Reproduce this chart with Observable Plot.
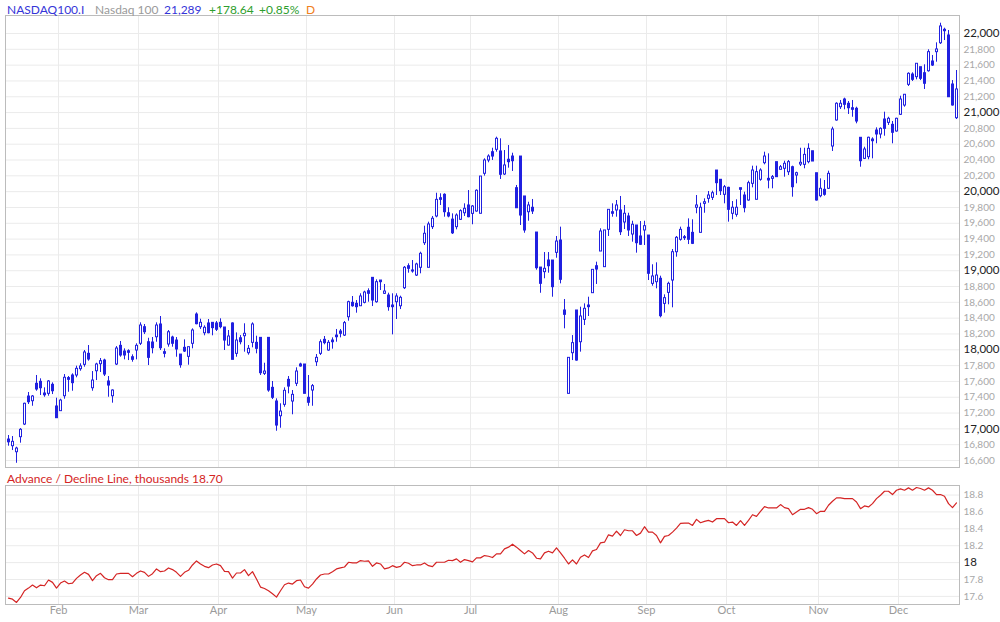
<!DOCTYPE html>
<html>
<head>
<meta charset="utf-8">
<script src="https://cdn.jsdelivr.net/npm/d3@7"></script>
<script src="https://cdn.jsdelivr.net/npm/@observablehq/plot@0.6"></script>
<style>
  html, body { margin: 0; padding: 0; background: #fff; }
  #root { position: relative; width: 1000px; height: 622px; font-family: Lato, "Noto Sans", sans-serif; overflow: hidden; }
  .hd { position: absolute; top: 2px; font-size: 12px; line-height: 16px; white-space: nowrap; }
  #main, #lower { position: absolute; left: 0; }
  #main { top: 0; }
  #lower { top: 470px; }
</style>
</head>
<body>
<div id="root">
  <div id="main"></div>
  <div id="lower"></div>
</div>
<script>
// ---------- header texts ----------
const headerItems = [
  {text: "NASDAQ100.I", x: 7, color: "#3535d8"},
  {text: "Nasdaq 100", x: 95, color: "#9a9a9a"},
  {text: "21,289", x: 164, color: "#3535d8"},
  {text: "+178.64", x: 209, color: "#2e9e2e"},
  {text: "+0.85%", x: 259, color: "#2e9e2e"},
  {text: "D", x: 306, color: "#f08020"}
];
const adTitle = "Advance / Decline Line, thousands 18.70";

// ---------- categories: trading-day index (Jan 12 2024 .. Dec 20 2024) ----------
const monthLabels = ["Feb", "Mar", "Apr", "May", "Jun", "Jul", "Aug", "Sep", "Oct", "Nov", "Dec"];
const monthFirstDay = [13, 33, 53, 75, 97, 116, 138, 160, 180, 203, 223];

// ---------- price series (OHLC) ----------
const open = [16865,16781,16705,16895,17055,17409,17350,17570,17595,17447,17443,17557,17283,17224,17413,17642,17675,17675,17755,17810,
17949,17514,17729,17818,17864,17599,17413,17814,18050,17978,17982,17906,17991,18076,18286,18096,18092,18159,18320,17970,
18067,18155,18117,17940,18025,17911,18076,18446,18286,18210,18333,18341,18333,18341,18282,18054,18333,17949,18146,18172,
17957,18088,18088,18151,17696,18151,17519,17346,17160,17304,17620,17346,17570,17814,17814,17393,17485,17843,17949,18126,
17991,18117,18180,18231,18180,18412,18594,18581,18551,18594,18741,18910,18602,18876,18708,18686,18560,18602,18551,18779,
19057,19003,18939,19037,19348,19037,19551,19686,19917,19960,19727,19646,19551,19644,19727,19825,19719,19749,19720,20226,
20394,20499,20529,20508,20217,20403,20444,20044,20444,19939,19740,19796,19483,19040,18982,19129,19129,19226,19382,18497,
17443,17957,18497,18096,18379,18560,18716,19057,19243,19045,19517,19740,19762,19762,19610,19686,19458,19572,19433,19509,
19445,18834,18855,18898,18581,18720,18876,19234,19391,19424,19543,19479,19796,19479,19846,19909,19922,20267,20150,19960,
20048,19720,19707,20044,19951,19888,20099,19897,20150,20360,20162,20162,20373,20276,20289,20246,20309,20204,20343,20339,
20373,20511,20233,19942,20023,20036,20571,20900,21068,21165,21111,21055,21048,20681,20415,20436,20659,20773,20723,20912,
20870,20845,20761,20972,21089,21351,21481,21448,21574,21498,21523,21646,21764,21877,22029,21975,21355,20929];
const high = [16916,16903,16768,17004,17325,17460,17422,17675,17633,17519,17611,17582,17388,17375,17687,17662,17696,17793,17823,17991,
18054,17725,17830,17890,17881,17662,17494,18041,18105,18012,18000,17936,18076,18341,18320,18146,18155,18341,18421,18012,
18244,18172,18155,17940,18126,18033,18265,18467,18387,18303,18383,18341,18358,18392,18282,18244,18341,18214,18180,18329,
18054,18341,18172,18151,17830,18151,17599,17380,17317,17519,17662,17485,17772,17830,17814,17675,17561,17940,18126,18168,
18117,18151,18257,18257,18358,18615,18674,18623,18708,18741,18771,18910,18885,18876,18826,18716,18708,18708,18678,19053,
19087,19129,19095,19234,19563,19614,19686,19980,19973,19973,19796,19719,19719,19770,19846,20014,19825,20023,20191,20415,
20466,20549,20689,20668,20520,20583,20486,20078,20444,19939,19866,19901,19483,19040,19230,19230,19129,19433,19551,18636,
17898,18180,18497,18539,18581,18665,19011,19108,19530,19509,19770,19846,19888,19939,19825,19727,19626,19572,19622,19626,
19445,19075,19100,18931,18695,18855,19268,19433,19551,19445,19656,19644,19951,19854,19909,20002,20006,20267,20150,20078,
20056,19875,19897,20044,19993,20132,20322,20322,20289,20499,20478,20204,20373,20331,20385,20394,20322,20246,20549,20549,
20605,20511,20233,20162,20141,20259,20815,21124,21153,21182,21140,21153,21068,20681,20562,20689,20681,20807,20807,21005,
20941,20887,20929,21207,21229,21503,21503,21617,21574,21604,21794,21722,21882,22130,22067,22038,21405,21532];
const low = [16781,16726,16565,16819,17042,17308,17286,17476,17422,17400,17413,17434,17135,17220,17375,17463,17476,17646,17729,17780,
17856,17476,17611,17713,17662,17400,17325,17801,17906,17873,17864,17843,17873,18054,18193,17801,17949,18096,17991,17898,
18033,18033,17906,17767,17966,17805,18012,18316,18257,18177,18202,18177,18231,18265,17991,18046,17873,17906,18063,17970,
17932,18025,17949,17675,17675,17463,17371,16970,17008,17274,17443,17178,17535,17780,17443,17286,17286,17789,17928,18063,
17982,18008,18096,18151,18168,18362,18539,18463,18547,18581,18602,18547,18589,18750,18700,18488,18189,18383,18509,18762,
18969,18969,18927,18961,19319,19037,19521,19669,19825,19677,19669,19458,19517,19635,19686,19669,19581,19740,19720,20196,
20365,20394,20499,20154,20204,20297,20255,19790,19572,19474,19626,19711,19007,18715,18898,18969,18665,19158,18834,18265,
17443,17864,17856,17970,18307,18421,18716,18826,19243,19045,19433,19677,19677,19445,19521,19433,19361,19222,19319,19319,
18876,18804,18771,18404,18463,18569,18531,19171,19374,19382,19331,19331,19720,19479,19727,19854,19888,19951,19951,19846,
19614,19644,19677,19825,19732,19879,20048,19897,20132,20339,20036,20036,20183,20276,20183,20204,19930,20099,20318,20289,
20352,20381,19880,19922,19942,20027,20508,20891,21039,21035,20976,20941,20858,20309,20406,20403,20415,20605,20668,20701,
20837,20605,20752,20963,21068,21330,21393,21414,21405,21292,21511,21583,21637,21861,21911,21194,21081,20912];
const close = [16830,16836,16751,16988,17317,17337,17409,17498,17514,17425,17599,17476,17135,17358,17646,17620,17578,17759,17789,17966,
17877,17611,17814,17856,17687,17548,17485,18016,17928,17928,17962,17873,18050,18307,18222,17898,18020,18307,18020,17949,
18222,18076,18004,17805,17978,18033,18244,18324,18341,18278,18210,18274,18253,18286,18117,18168,17873,18117,18096,18202,
18012,18320,18012,17704,17725,17485,17393,17042,17219,17481,17535,17430,17725,17789,17443,17330,17540,17898,18096,18084,
18088,18096,18159,18202,18337,18602,18551,18539,18674,18724,18708,18623,18855,18855,18737,18539,18539,18674,18657,19037,
19024,18990,19079,19214,19467,19585,19657,19896,19896,19740,19686,19473,19698,19753,19783,19677,19812,20011,20191,20394,
20444,20444,20668,20213,20331,20373,20385,19790,19698,19509,19825,19749,19032,18834,19024,19057,18792,19369,18885,18442,
17898,18084,17864,18421,18518,18539,19011,19015,19496,19509,19770,19720,19825,19487,19720,19509,19581,19348,19328,19563,
18961,18927,18939,18425,18653,18834,19234,19416,19517,19411,19391,19340,19825,19796,19866,19951,19980,20107,20006,20056,
19770,19796,19796,20023,19791,20107,20267,20246,20267,20444,20141,20183,20183,20309,20352,20373,20056,20233,20365,20465,
20541,20381,19888,20036,19960,20225,20786,21111,21111,21098,21055,21035,20887,20385,20533,20681,20638,20723,20794,20794,
20921,20744,20921,21165,21225,21490,21414,21617,21427,21364,21764,21595,21798,22089,22047,21194,21090,21292];

// ---------- advance / decline line (thousands) ----------
const adLine = [17.579,17.567,17.528,17.587,17.667,17.698,17.734,17.702,17.734,17.726,17.794,17.766,17.698,17.758,17.782,17.750,17.758,17.813,17.853,17.885,
17.861,17.786,17.845,17.873,17.821,17.798,17.798,17.865,17.873,17.873,17.873,17.833,17.873,17.901,17.885,17.837,17.869,17.925,17.893,17.901,
17.937,17.917,17.885,17.837,17.885,17.909,17.972,18.020,17.984,17.956,17.940,17.972,17.984,17.964,17.897,17.893,17.817,17.877,17.877,17.917,
17.845,17.893,17.806,17.710,17.694,17.667,17.631,17.591,17.667,17.738,17.758,17.746,17.786,17.794,17.714,17.698,17.746,17.806,17.853,17.865,
17.865,17.893,17.925,17.937,17.948,18.004,17.996,17.996,18.024,18.016,18.020,17.956,17.996,17.984,17.925,17.937,17.964,17.944,17.956,18.004,
17.992,17.964,17.972,17.972,17.996,17.964,17.952,18.004,18.004,18.004,18.028,18.024,18.044,18.004,18.036,18.024,18.008,18.056,18.056,18.083,
18.075,18.060,18.103,18.103,18.163,18.183,18.218,18.183,18.143,18.103,18.143,18.115,18.052,18.044,18.115,18.135,18.115,18.175,18.115,18.052,
17.984,18.032,17.984,18.063,18.091,18.060,18.139,18.155,18.234,18.242,18.329,18.313,18.373,18.321,18.389,18.377,18.377,18.321,18.349,18.425,
18.361,18.361,18.321,18.234,18.310,18.321,18.361,18.409,18.464,18.468,18.468,18.440,18.512,18.472,18.488,18.500,18.480,18.520,18.520,18.520,
18.472,18.480,18.440,18.496,18.440,18.500,18.567,18.548,18.607,18.663,18.647,18.647,18.647,18.687,18.651,18.639,18.567,18.599,18.631,18.631,
18.651,18.631,18.579,18.607,18.607,18.679,18.726,18.766,18.766,18.758,18.758,18.758,18.718,18.639,18.671,18.659,18.698,18.758,18.798,18.845,
18.845,18.806,18.857,18.873,18.857,18.885,18.857,18.889,18.877,18.857,18.885,18.857,18.806,18.806,18.786,18.698,18.651,18.706];

// ---------- axis tick values ----------
const priceTicks = d3.range(16600, 22001, 200);
const adTicks = [17.6, 17.8, 18.0, 18.2, 18.4, 18.6, 18.8];

// ---------- build ----------
const blue = "#2020e0";
const red = "#d42424";
const gridColor = "#ebebeb";
const frameColor = "#bcbcbc";
const n = close.length;
const candles = d3.range(n).map(i => ({i, o: open[i], h: high[i], l: low[i], c: close[i],
  top: Math.max(open[i], close[i]), bot: Math.min(open[i], close[i])}));
const hollow = candles.filter(d => d.c > d.o && d.c - d.o > 18);
const months = monthLabels.map((m, j) => ({label: m, k: monthFirstDay[j]}));
const xDomain = [-0.75, n - 0.25];
const fmt = d3.format(",");

const root = document.getElementById("root");
for (const h of headerItems) {
  const s = document.createElement("span");
  s.className = "hd";
  s.style.left = h.x + "px";
  s.style.color = h.color;
  s.textContent = h.text;
  root.appendChild(s);
}
const t = document.createElement("span");
t.className = "hd";
t.style.left = "7px";
t.style.top = "471px";
t.style.color = red;
t.textContent = adTitle;
root.appendChild(t);

const mainChart = Plot.plot({
  width: 1000, height: 470,
  marginLeft: 5, marginRight: 41, marginTop: 15, marginBottom: 3,
  style: {fontFamily: "Lato, sans-serif", background: "transparent", overflow: "visible"},
  x: {type: "linear", domain: xDomain, axis: null},
  y: {domain: [16511.5, 22227.6], axis: null},
  marks: [
    Plot.ruleY(priceTicks, {y: d => d, stroke: gridColor}),
    Plot.ruleX(months, {x: d => d.k - 0.5, stroke: gridColor}),
    // wicks
    Plot.ruleX(candles, {x: "i", y1: "l", y2: "h", stroke: blue}),
    // bodies (outer, 3px wide)
    Plot.ruleX(candles, {x: "i", y1: "top", y2: "bot", stroke: blue, strokeWidth: 3,
      insetTop: -0.5, insetBottom: -0.5}),
    // hollow interiors for rising candles
    Plot.ruleX(hollow, {x: "i", y1: "top", y2: "bot", stroke: "white", strokeWidth: 1,
      insetTop: 0.5, insetBottom: 0.5}),
    Plot.frame({stroke: frameColor}),
    Plot.text(priceTicks.filter(d => d % 1000 !== 0), {y: d => d, text: d => fmt(d), frameAnchor: "right",
      dx: 4, textAnchor: "start", fill: "#a8a8a8", fontSize: 10}),
    Plot.text(priceTicks.filter(d => d % 1000 === 0), {y: d => d, text: d => fmt(d), frameAnchor: "right",
      dx: 4, textAnchor: "start", fill: "#222", fontSize: 11.5})
  ]
});
document.getElementById("main").appendChild(mainChart);

const lowerChart = Plot.plot({
  width: 1000, height: 152,
  marginLeft: 5, marginRight: 41, marginTop: 15, marginBottom: 18,
  style: {fontFamily: "Lato, sans-serif", background: "transparent", overflow: "visible"},
  x: {type: "linear", domain: xDomain, axis: null},
  y: {domain: [17.504, 18.913], axis: null},
  marks: [
    Plot.ruleY(adTicks, {y: d => d, stroke: gridColor}),
    Plot.ruleX(months, {x: d => d.k - 0.5, stroke: gridColor}),
    Plot.line(adLine, {x: (d, i) => i, y: d => d, stroke: red, strokeWidth: 1.2}),
    Plot.frame({stroke: frameColor}),
    Plot.text(adTicks.filter(d => d !== 18), {y: d => d, text: d => d.toFixed(1), frameAnchor: "right",
      dx: 4, textAnchor: "start", fill: "#a8a8a8", fontSize: 10}),
    Plot.text([18], {y: d => d, text: d => "18", frameAnchor: "right",
      dx: 4, textAnchor: "start", fill: "#222", fontSize: 11.5}),
    Plot.text(months, {x: d => d.k - 0.5, text: "label", frameAnchor: "bottom", dy: 9,
      fill: "#9a9a9a", fontSize: 11})
  ]
});
document.getElementById("lower").appendChild(lowerChart);
</script>
</body>
</html>
